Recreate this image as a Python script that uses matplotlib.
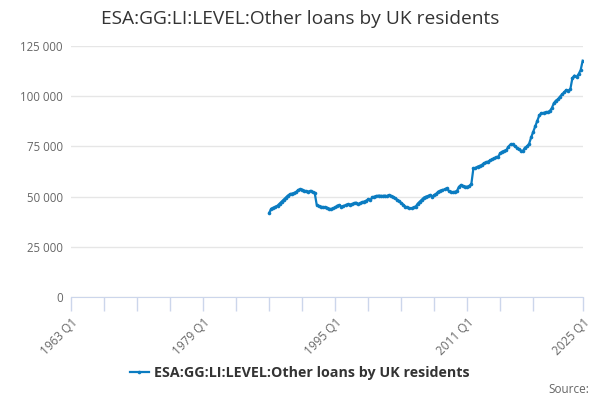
import matplotlib
matplotlib.use("Agg")
import matplotlib.pyplot as plt
from matplotlib.lines import Line2D
from matplotlib.ticker import FuncFormatter, FixedLocator
import pandas as pd

plt.rcParams['font.family'] = ['Open Sans', 'DejaVu Sans']

title = "ESA:GG:LI:LEVEL:Other loans by UK residents"
series_name = "ESA:GG:LI:LEVEL:Other loans by UK residents"
first_quarter = "1987Q1"
axis_start = "1963Q1"
axis_end = "2025Q1"
label_quarters = ["1963Q1", "1979Q1", "1995Q1", "2011Q1", "2025Q1"]

# quarterly values, £ million
loans = [
    42000, 44000, 44500, 45000,      # 1987
    45500, 46500, 47500, 48500,      # 1988
    49500, 50500, 51200, 51500,      # 1989
    51800, 52300, 53300, 53600,      # 1990
    53500, 53000, 52600, 52500,      # 1991
    52900, 52200, 52000, 46000,      # 1992
    45200, 45000, 44800, 44600,      # 1993
    44500, 44000, 43800, 44200,      # 1994
    44600, 45500, 45800, 45000,      # 1995
    45300, 45800, 46200, 46000,      # 1996
    46300, 46600, 47000, 46300,      # 1997
    46700, 47200, 47500, 48000,      # 1998
    48600, 48300, 49600, 50000,      # 1999
    50300, 50500, 50400, 50300,      # 2000
    50500, 50200, 50800, 50400,      # 2001
    50000, 49100, 48500, 47800,      # 2002
    46800, 46000, 45000, 44600,      # 2003
    44200, 44200, 44600, 45000,      # 2004
    46500, 47500, 48500, 49500,      # 2005
    50000, 50300, 50800, 50000,      # 2006
    50800, 51500, 52500, 53000,      # 2007
    53300, 53600, 54100, 52900,      # 2008
    52500, 52100, 52400, 52800,      # 2009
    54900, 55800, 55300, 55000,      # 2010
    54900, 55300, 56300, 64100,      # 2011
    64300, 64900, 65300, 65700,      # 2012
    66600, 67000, 67400, 68000,      # 2013
    68500, 69100, 69500, 69900,      # 2014
    71600, 72400, 72800, 73200,      # 2015
    74900, 76000, 76000, 75200,      # 2016
    74400, 73500, 72900, 72700,      # 2017
    74400, 75000, 76300, 79500,      # 2018
    82300, 85000, 87800, 90600,      # 2019
    91500, 91700, 92000, 92100,      # 2020
    92600, 94000, 96500, 97800,      # 2021
    98500, 99800, 100900, 101900,   # 2022
    103100, 102800, 103500, 109000, # 2023
    110300, 109600, 111000, 113000, # 2024
    117700,                          # 2025
]


def qpos(q):
    p = pd.Period(q, freq="Q")
    return p.year + (p.quarter - 1) / 4


periods = pd.period_range(first_quarter, periods=len(loans), freq="Q")
x = [p.year + (p.quarter - 1) / 4 for p in periods]

fig = plt.figure(figsize=(6, 4), dpi=100)
ax = fig.add_axes([71.3 / 600, 1 - 297 / 400, (582.7 - 71.3) / 600, (297 - 46) / 400])

line_color = "#0b7cc1"
ax.plot(x, loans, color=line_color, lw=1.6, marker="o", ms=2.6, mew=0, zorder=3)

ax.set_xlim(qpos(axis_start), qpos(axis_end))
ax.set_ylim(0, 125000)
ax.set_yticks(range(0, 125001, 25000))
ax.yaxis.set_major_formatter(FuncFormatter(lambda v, _: f"{int(v):,}".replace(",", " ")))
ax.grid(axis="y", color="#e6e6e6", lw=1)
ax.set_axisbelow(True)

# x ticks every 4 years, labels every 16
tick_pos = [qpos(f"{y}Q1") for y in range(1963, 2020, 4)] + [qpos(axis_end)]
ax.xaxis.set_major_locator(FixedLocator(tick_pos))
ax.set_xticklabels([""] * len(tick_pos))
for q in label_quarters:
    ax.text(qpos(q), -0.075, q.replace("Q", " Q"), transform=ax.get_xaxis_transform(),
            rotation=45, ha="right", va="top", rotation_mode="anchor",
            fontsize=8.5, color="#666666")
ax.tick_params(axis="x", length=10, width=1, color="#ccd6eb", direction="out")
ax.tick_params(axis="y", length=0, labelsize=8.3, labelcolor="#666666", pad=6)

for side in ["top", "right", "left"]:
    ax.spines[side].set_visible(False)
ax.spines["bottom"].set_color("#ccd6eb")

fig.text(0.5, 0.953, title, ha="center", va="center", fontsize=13.8, color="#333333")

handle = Line2D([], [], color=line_color, lw=1.6, marker="o", ms=2.6, mew=0)
fig.legend([handle], [series_name], loc="center", bbox_to_anchor=(0.5, 0.067),
           frameon=False, handlelength=1.3, handletextpad=0.4,
           prop={"size": 10.3, "weight": "bold"}, labelcolor="#333333")

fig.text(0.982, 0.026, "Source:", ha="right", va="center", fontsize=8.5, color="#666666")

fig.savefig("out.png", dpi=100)
